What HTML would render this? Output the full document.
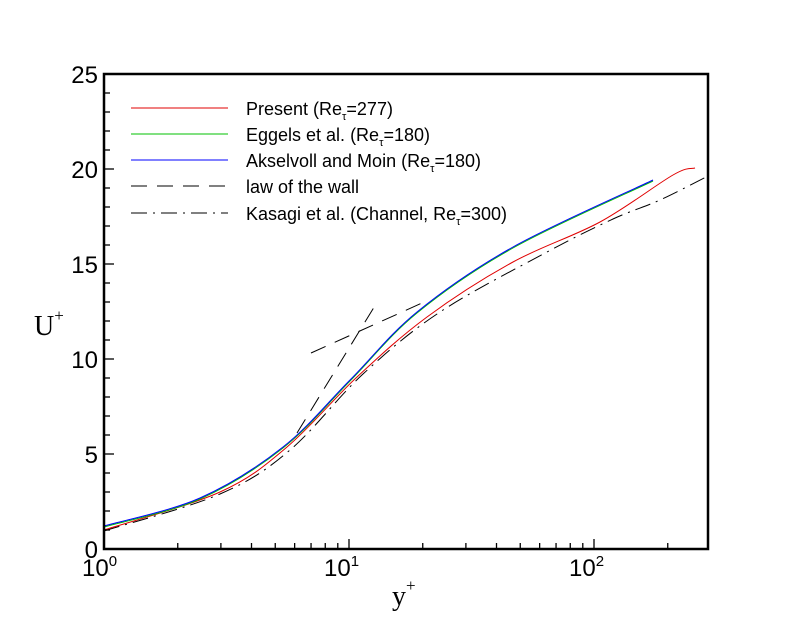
<!DOCTYPE html>
<html><head><meta charset="utf-8"><style>body{margin:0;background:#fff}svg{display:block}</style></head>
<body>
<svg id="s" width="806" height="619" xmlns="http://www.w3.org/2000/svg" font-family="Liberation Sans, sans-serif">
<rect width="806" height="619" fill="#fff"/>
<g id="curves" fill="none" stroke-width="1"></g>
<g id="ticks" stroke="#000" stroke-width="1.3"></g>
<rect x="104" y="74" width="604" height="475" fill="none" stroke="#000" stroke-width="2.5"/>
<g font-size="24" text-anchor="end">
<text x="98" y="83">25</text><text x="98" y="178">20</text><text x="98" y="273">15</text>
<text x="98" y="368">10</text><text x="98" y="463">5</text><text x="98" y="558">0</text>
</g>
<g font-size="24">
<text x="82" y="576">10<tspan font-size="15" dy="-10">0</tspan></text>
<text x="324" y="576">10<tspan font-size="15" dy="-10">1</tspan></text>
<text x="569" y="576">10<tspan font-size="15" dy="-10">2</tspan></text>
</g>
<text x="392" y="605" font-family="Liberation Serif, serif" font-size="28">y<tspan font-size="17" dy="-14">+</tspan></text>
<text x="34" y="335" font-family="Liberation Serif, serif" font-size="28">U<tspan font-size="17" dy="-14">+</tspan></text>
<g stroke-width="1">
<line x1="131" y1="108" x2="228" y2="108" stroke="#e00000"/>
<line x1="131" y1="134" x2="228" y2="134" stroke="#00c000"/>
<line x1="131" y1="160" x2="228" y2="160" stroke="#0000ff"/>
<line x1="131" y1="186" x2="228" y2="186" stroke="#000" stroke-dasharray="16,10"/>
<line x1="131" y1="213" x2="228" y2="213" stroke="#000" stroke-dasharray="16,6,2,6"/>
</g>
<g font-size="18">
<text x="246" y="115">Present (Re<tspan font-size="11" dy="5">τ</tspan><tspan dy="-5">=277)</tspan></text>
<text x="246" y="141">Eggels et al. (Re<tspan font-size="11" dy="5">τ</tspan><tspan dy="-5">=180)</tspan></text>
<text x="246" y="167">Akselvoll and Moin (Re<tspan font-size="11" dy="5">τ</tspan><tspan dy="-5">=180)</tspan></text>
<text x="246" y="193">law of the wall</text>
<text x="246" y="220">Kasagi et al. (Channel, Re<tspan font-size="11" dy="5">τ</tspan><tspan dy="-5">=300)</tspan></text>
</g>
</svg>
<script>
var X=function(y){return 104+Math.log10(y)*245;},Y=function(u){return 549-u*19;};
var t=document.getElementById('ticks'),h='';
for(var d=0;d<3;d++)for(var k=1;k<10;k++){var v=Math.pow(10,d)*k;var x=X(v);if(x>708)break;var L=k==1?10:6;h+='<line x1="'+x+'" y1="549" x2="'+x+'" y2="'+(549-L)+'"/>';}
for(var u=0;u<=25;u++){var y=Y(u);var L=u%5==0?10:6;h+='<line x1="104" y1="'+y+'" x2="'+(104+L)+'" y2="'+y+'"/>';}
t.innerHTML=h;
function cr(P,col,dash){var d='M'+P[0][0]+','+P[0][1];for(var i=0;i<P.length-1;i++){var p0=P[i-1]||P[i],p1=P[i],p2=P[i+1],p3=P[i+2]||p2;
d+=' C'+(p1[0]+(p2[0]-p0[0])/6).toFixed(1)+','+(p1[1]+(p2[1]-p0[1])/6).toFixed(1)+' '+(p2[0]-(p3[0]-p1[0])/6).toFixed(1)+','+(p2[1]-(p3[1]-p1[1])/6).toFixed(1)+' '+p2[0]+','+p2[1];}
return '<path d="'+d+'" stroke="'+col+'"'+(dash?' stroke-dasharray="'+dash+'"':'')+'/>';}
var blue=[[104,526],[200,498],[283,447],[350,380],[417,312],[513,247],[653,180]];
var green=blue.map(function(p){return [p[0],p[1]+1];});
var red=[[104,530],[220,492],[287,447],[357,377],[427,317],[513,262],[600,222],[673,175],[695,168]];
var kas=[[104,531],[220,494],[290,450],[363,374],[440,312],[547,252],[613,219],[660,200],[708,176]];
var c='';
c+=cr(kas,'#000','16,6,2,6');
c+=cr(red,'#e00000');
c+=cr(green,'#00c000');
c+=cr(blue,'#0000ff');
c+='<path d="M297,433 L376,304" stroke="#000" stroke-dasharray="16,10"/>';
c+='<path d="M311,353 L422,303" stroke="#000" stroke-dasharray="16,10"/>';
document.getElementById('curves').innerHTML=c;
</script>
</body></html>
